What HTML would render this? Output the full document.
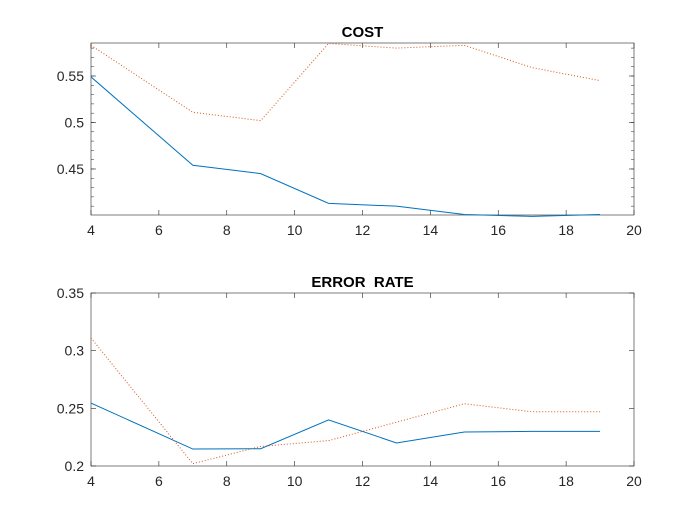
<!DOCTYPE html>
<html><head><meta charset="utf-8"><style>
body{margin:0;background:#fff;}
svg{font-family:"Liberation Sans",Arial,sans-serif;}
text{white-space:pre;}
</style></head><body>
<svg id="chart" width="700" height="525" xmlns="http://www.w3.org/2000/svg"></svg>
<script>
const xValues=[4,7,9,11,13,15,17,19];
const costBlue=[0.549,0.454,0.445,0.413,0.410,0.401,0.399,0.401];
const costRed=[0.583,0.511,0.502,0.585,0.580,0.583,0.559,0.545];
const errBlue=[0.2546,0.2147,0.215,0.24,0.22,0.2295,0.23,0.23];
const errRed=[0.311,0.202,0.217,0.222,0.238,0.254,0.247,0.247];
const xTicks=[4,6,8,10,12,14,16,18,20];
const costTicks=[0.45,0.5,0.55];
const errTicks=[0.2,0.25,0.3,0.35];
const NS='http://www.w3.org/2000/svg';
const svg=document.getElementById('chart');
function mk(t,a,p){const e=document.createElementNS(NS,t);for(const k in a)e.setAttribute(k,a[k]);(p||svg).appendChild(e);return e;}
function panel(name,title,top,bot,ymin,ymax,yt,ylab,blue,red,minor){
  const L=91,R=634;
  const g=mk('g',{});
  
  
  const xs=v=>L+(v-4)/(20-4)*(R-L);
  const ys=v=>bot-(v-ymin)/(ymax-ymin)*(bot-top);
  const cid='clip-'+name;
  const cp=mk('clipPath',{id:cid},g);mk('rect',{x:L,y:top-2,width:R-L,height:bot-top+4},cp);
  mk('rect',{x:L,y:top,width:R-L,height:bot-top,fill:'#fff',stroke:'#262626','stroke-width':0.6},g);
  xTicks.forEach(t=>{const x=xs(t);
    mk('line',{x1:x,x2:x,y1:bot,y2:bot-5,stroke:'#262626','stroke-width':0.6},g);
    mk('line',{x1:x,x2:x,y1:top,y2:top+5,stroke:'#262626','stroke-width':0.6},g);
    const tx=mk('text',{x:x,y:bot+20,'text-anchor':'middle','font-size':14,fill:'#262626'},g);tx.textContent=t;
    });
  yt.forEach((t,i)=>{const y=ys(t);
    mk('line',{x1:L,x2:L+5,y1:y,y2:y,stroke:'#262626','stroke-width':0.6},g);
    mk('line',{x1:R,x2:R-5,y1:y,y2:y,stroke:'#262626','stroke-width':0.6},g);
    const tx=mk('text',{x:L-7,y:y+5,'text-anchor':'end','font-size':14,fill:'#262626'},g);tx.textContent=ylab[i];
    });
  if(minor){for(let v=0.41;v<ymax;v+=0.01){const y=ys(v);
    mk('line',{x1:L,x2:L+3,y1:y,y2:y,stroke:'#262626','stroke-width':0.5},g);
    mk('line',{x1:R,x2:R-3,y1:y,y2:y,stroke:'#262626','stroke-width':0.5},g);}}
  const t=mk('text',{x:(L+R)/2,y:top-6,'text-anchor':'middle','font-size':15,'font-weight':'bold',fill:'#000'},g);t.textContent=title;
  
  const pts=a=>a.map((v,i)=>xs(xValues[i])+','+ys(v)).join(' ');
  const b=mk('polyline',{points:pts(blue),fill:'none',stroke:'#0072bd','stroke-width':1,'clip-path':'url(#'+cid+')'},g);
  
  const r=mk('polyline',{points:pts(red),fill:'none',stroke:'#d95319','stroke-width':1,'stroke-dasharray':'1,2','clip-path':'url(#'+cid+')'},g);
  
}
panel('cost-panel','COST',43,215,0.4005,0.5855,costTicks,['0.45','0.5','0.55'],costBlue,costRed,true);
panel('error-rate-panel','ERROR  RATE',293,466,0.2,0.35,errTicks,['0.2','0.25','0.3','0.35'],errBlue,errRed,false);
</script>
</body></html>
